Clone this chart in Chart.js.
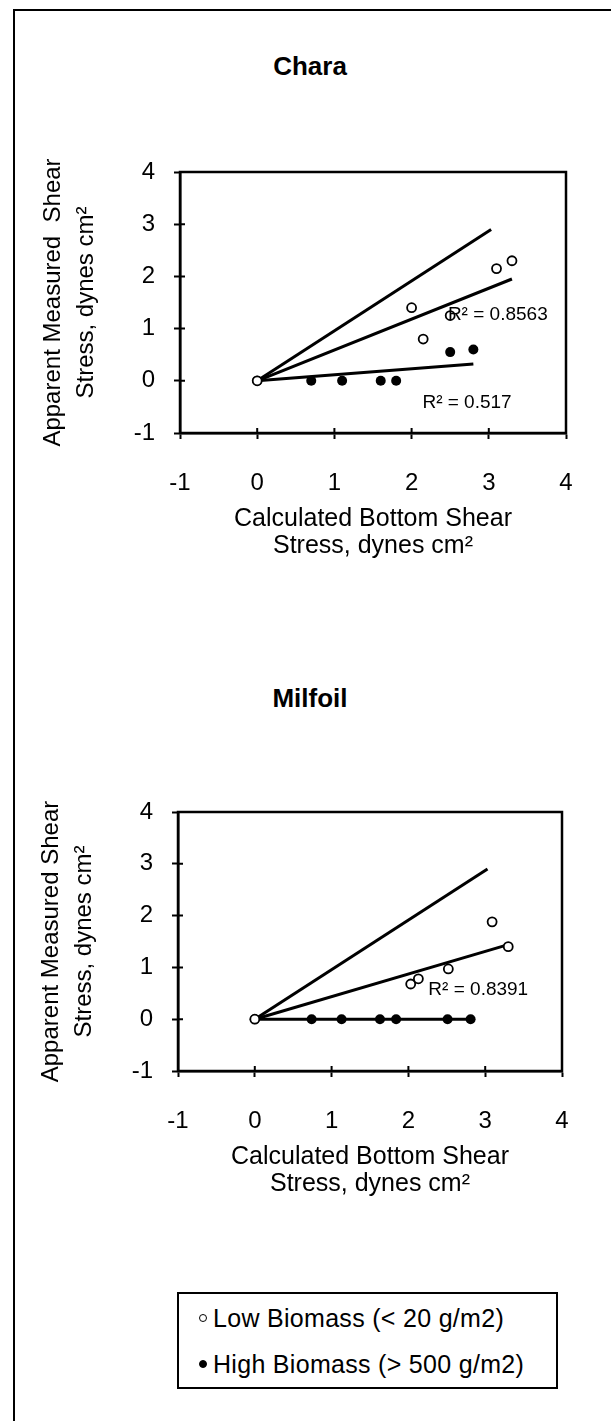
<!DOCTYPE html>
<html>
<head>
<meta charset="utf-8">
<script src="https://cdn.jsdelivr.net/npm/chart.js@4.4.0/dist/chart.umd.min.js"></script>
<style>
  body { margin:0; background:#fff; }
  #page { position:relative; width:611px; height:1421px; overflow:hidden; font-family:'Liberation Sans', Arial, sans-serif; color:#000; }
  #frame { position:absolute; left:13px; top:9px; width:800px; height:1600px; border-left:2px solid #000; border-top:2px solid #000; }
  canvas { position:absolute; left:0; }
  .ttl { position:absolute; left:210px; width:200px; text-align:center; font-size:26px; font-weight:bold; line-height:30px; }
  #legend { position:absolute; left:177px; top:1292px; width:377px; height:93px; border:2px solid #000; }
  .row { position:absolute; left:0; height:30px; line-height:30px; font-size:25px; letter-spacing:0.3px; white-space:nowrap; }
  .mk { position:absolute; left:20px; top:11px; width:8px; height:8px; border-radius:50%; box-sizing:border-box; border:1.5px solid #000; background:#fff; }
  .mk.fill { background:#000; }
  .row span.t { position:absolute; left:34px; }
</style>
</head>
<body>
<div id="page">
  <div id="frame"></div>
  <div class="ttl" style="top:51px">Chara</div>
  <canvas id="c1" width="611" height="600" style="top:0"></canvas>
  <div class="ttl" style="top:683px">Milfoil</div>
  <canvas id="c2" width="611" height="640" style="top:600px"></canvas>
  <div id="legend"></div>
</div>
<script>
// axis ticks
const xTicks = [-1, 0, 1, 2, 3, 4];
const yTicks = [-1, 0, 1, 2, 3, 4];
const seriesNames = ['Low Biomass (< 20 g/m2)', 'High Biomass (> 500 g/m2)'];

// Chara
const charaLowX = [0, 2.0, 2.15, 2.5, 3.1, 3.3];
const charaLowY = [0, 1.4, 0.8, 1.25, 2.15, 2.3];
const charaHighX = [0, 0.7, 1.1, 1.6, 1.8, 2.5, 2.8];
const charaHighY = [0, 0, 0, 0, 0, 0.55, 0.6];
const charaLowFitX = [0, 3.3];
const charaLowFitY = [0, 1.95];
const charaHighFitX = [0, 2.8];
const charaHighFitY = [0, 0.32];
const charaR2 = ['R\u00b2 = 0.8563', 'R\u00b2 = 0.517'];

// Milfoil
const milLowX = [0, 2.03, 2.13, 2.52, 3.09, 3.3];
const milLowY = [0, 0.68, 0.78, 0.97, 1.88, 1.4];
const milHighX = [0, 0.74, 1.13, 1.63, 1.84, 2.51, 2.81];
const milHighY = [0, 0, 0, 0, 0, 0, 0];
const milLowFitX = [0, 3.3];
const milLowFitY = [0, 1.44];
const milHighFitX = [0, 2.8];
const milHighFitY = [0, 0];
const milR2 = ['R\u00b2 = 0.8391'];

// 1:1 reference line
const oneX = [0, 3.03];
const oneY = [0, 2.9];

const FONT = "'Liberation Sans', Arial, sans-serif";
const pts = (xs, ys) => xs.map((x, i) => ({x: x, y: ys[i]}));

const framePlugin = {
  id: 'frame',
  afterDraw(chart) {
    const {ctx, chartArea: a, scales} = chart;
    ctx.save();
    ctx.strokeStyle = '#000';
    ctx.lineWidth = 2.5;
    ctx.strokeRect(a.left, a.top, a.right - a.left, a.bottom - a.top);
    ctx.lineWidth = 2;
    ctx.beginPath();
    scales.x.ticks.forEach(t => {
      const px = scales.x.getPixelForValue(t.value);
      ctx.moveTo(px, a.bottom); ctx.lineTo(px, a.bottom - 5);
    });
    scales.y.ticks.forEach(t => {
      const py = scales.y.getPixelForValue(t.value);
      ctx.moveTo(a.left, py); ctx.lineTo(a.left + 5, py);
    });
    ctx.stroke();
    ctx.restore();
  }
};

const r2Plugin = {
  id: 'r2',
  afterDatasetsDraw(chart, args, opts) {
    const {ctx, scales} = chart;
    ctx.save();
    ctx.font = '19px ' + FONT;
    ctx.fillStyle = '#000';
    ctx.textAlign = 'left';
    ctx.textBaseline = 'middle';
    opts.items.forEach(it => {
      ctx.fillText(it.text, scales.x.getPixelForValue(it.x), scales.y.getPixelForValue(it.y));
    });
    ctx.restore();
  }
};

function makeChart(id, d, opt) {
  const lineDs = (data) => ({
    data: data, showLine: true, borderColor: '#000', borderWidth: 3,
    pointRadius: 0, fill: false
  });
  return new Chart(document.getElementById(id), {
    type: 'scatter',
    data: {
      datasets: [
        { label: seriesNames[0], data: pts(d.lowX, d.lowY), pointRadius: 4.5, pointBorderWidth: 1.8,
          pointBackgroundColor: '#fff', pointBorderColor: '#000' },
        { label: seriesNames[1], data: pts(d.highX, d.highY), pointRadius: 5, pointBorderWidth: 0,
          pointBackgroundColor: '#000', pointBorderColor: '#000' },
        lineDs(pts(oneX, oneY)),
        lineDs(pts(d.lowFitX, d.lowFitY)),
        lineDs(pts(d.highFitX, d.highFitY))
      ]
    },
    options: {
      responsive: false,
      animation: false,
      devicePixelRatio: 1,
      layout: { padding: { top: opt.top, right: opt.right, left: 0, bottom: 0 } },
      plugins: {
        legend: { display: false },
        tooltip: { enabled: false },
        r2: { items: opt.labels }
      },
      scales: {
        x: {
          type: 'linear', min: -1, max: 4,
          afterBuildTicks: s => { s.ticks = xTicks.map(v => ({value: v})); },
          afterFit: s => { s.height = opt.xh; },
          grid: { drawOnChartArea: false, drawTicks: true, tickLength: 6, tickColor: '#000', tickWidth: 2 },
          border: { display: true, color: '#000', width: 2.5 },
          ticks: { color: '#000', padding: 30, font: { family: FONT, size: 24 } },
          title: { display: true, text: ['Calculated Bottom Shear', 'Stress, dynes cm\u00b2'], color: '#000',
                   font: { family: FONT, size: 25, lineHeight: 1.08 }, padding: { top: 0, bottom: opt.xpb } }
        },
        y: {
          type: 'linear', min: -1, max: 4,
          afterBuildTicks: s => { s.ticks = yTicks.map(v => ({value: v})); },
          afterFit: s => { s.width = opt.yw; },
          grid: { drawOnChartArea: false, drawTicks: true, tickLength: 6, tickColor: '#000', tickWidth: 2 },
          border: { display: true, color: '#000', width: 2.5 },
          ticks: { color: '#000', padding: 19, font: { family: FONT, size: 24 } },
          title: { display: true, text: [opt.ytitle, 'Stress, dynes cm\u00b2'], color: '#000',
                   font: { family: FONT, size: 24, lineHeight: 1.375 }, padding: { top: opt.ypt, bottom: 0 } }
        }
      }
    },
    plugins: [framePlugin, r2Plugin]
  });
}

makeChart('c1', {
  lowX: charaLowX, lowY: charaLowY, highX: charaHighX, highY: charaHighY,
  lowFitX: charaLowFitX, lowFitY: charaLowFitY, highFitX: charaHighFitX, highFitY: charaHighFitY
}, {
  top: 172, right: 45, xh: 167, xpb: 40, yw: 180, ypt: 37,
  ytitle: 'Apparent Measured  Shear',
  labels: [{text: charaR2[0], x: 2.47, y: 1.27}, {text: charaR2[1], x: 2.14, y: -0.42}]
});

makeChart('c2', {
  lowX: milLowX, lowY: milLowY, highX: milHighX, highY: milHighY,
  lowFitX: milLowFitX, lowFitY: milLowFitY, highFitX: milHighFitX, highFitY: milHighFitY
}, {
  top: 212, right: 49, xh: 169, xpb: 42, yw: 178, ypt: 35,
  ytitle: 'Apparent Measured Shear',
  labels: [{text: milR2[0], x: 2.26, y: 0.56}]
});

// legend box
const leg = document.getElementById('legend');
seriesNames.forEach((name, i) => {
  const row = document.createElement('div');
  row.className = 'row';
  row.style.top = (i === 0 ? 9 : 55) + 'px';
  row.innerHTML = '<span class="mk' + (i === 1 ? ' fill' : '') + '"></span><span class="t"></span>';
  row.querySelector('.t').textContent = name;
  leg.appendChild(row);
});
</script>
</body>
</html>
